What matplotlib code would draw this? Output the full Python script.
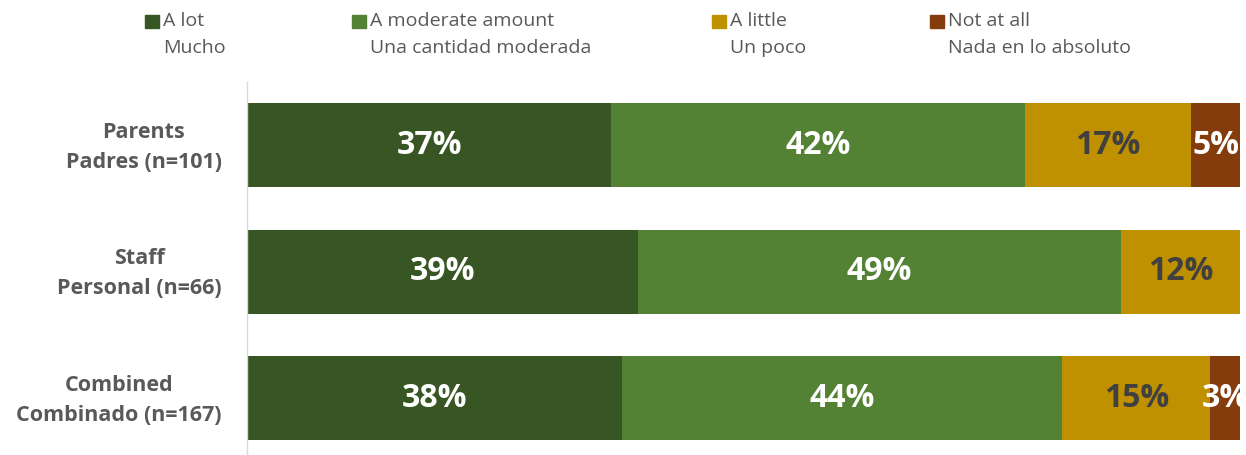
import matplotlib
matplotlib.use("Agg")
import matplotlib.pyplot as plt
from matplotlib.patches import Rectangle
from matplotlib.transforms import ScaledTranslation

plt.rcParams['font.family'] = ['Open Sans', 'DejaVu Sans']

groups = ["Parents\nPadres (n=101)", "Staff\nPersonal (n=66)", "Combined\nCombinado (n=167)"]
series_names = ["A lot\nMucho", "A moderate amount\nUna cantidad moderada",
                "A little\nUn poco", "Not at all\nNada en lo absoluto"]
a_lot = [36.7, 39.4, 37.8]
moderate = [41.6, 48.6, 44.3]
a_little = [16.8, 12.0, 14.9]
not_at_all = [4.9, 0.0, 3.0]

colors = ["#375623", "#548235", "#BF9000", "#843C0C"]
label_colors = ["white", "white", "#404040", "white"]

W, H = 1246, 455
fig = plt.figure(figsize=(W / 100, H / 100), dpi=100)
ax = fig.add_axes([247 / W, 0, 993 / W, (H - 82) / H])

series = [a_lot, moderate, a_little, not_at_all]
ypos = list(range(len(groups)))
left = [0.0] * len(groups)
for vals, col, lc in zip(series, colors, label_colors):
    bars = ax.barh(ypos, vals, left=left, height=0.664, color=col, edgecolor='none')
    for y, v, l in zip(ypos, vals, left):
        if v > 0:
            t = ax.text(l + v / 2, y, f"{v:.0f}%", ha='center', va='center',
                        color=lc, fontsize=23, fontweight='bold')
            t.set_clip_on(False)
    left = [l + v for l, v in zip(left, vals)]

ax.set_xlim(0, 100)
ax.set_ylim(2.449, -0.5)
ax.set_yticks(ypos)
ax.set_yticklabels(groups, fontsize=15.5, fontweight='bold', color='#595959',
                   ha='right', multialignment='center', linespacing=1.55)
ax.tick_params(axis='y', length=0, pad=18)
off = ScaledTranslation(0, 5 / 100, fig.dpi_scale_trans)
for lab in ax.get_yticklabels():
    lab.set_transform(lab.get_transform() + off)
ax.set_xticks([])
for s in ['top', 'right', 'bottom']:
    ax.spines[s].set_visible(False)
ax.spines['left'].set_color('#D9D9D9')
ax.spines['left'].set_linewidth(1)

# legend
sq_x = [145, 352, 712, 930]
for x, name, col in zip(sq_x, series_names, colors):
    fig.add_artist(Rectangle((x / W, 1 - 28 / H), 14 / W, 13 / H,
                             transform=fig.transFigure, color=col))
    l1, l2 = name.split("\n")
    fig.text((x + 18) / W, 1 - 21 / H, l1, fontsize=14, color='#595959', va='center')
    fig.text((x + 18) / W, 1 - 48 / H, l2, fontsize=14, color='#595959', va='center')

fig.savefig("out.png", dpi=100)
